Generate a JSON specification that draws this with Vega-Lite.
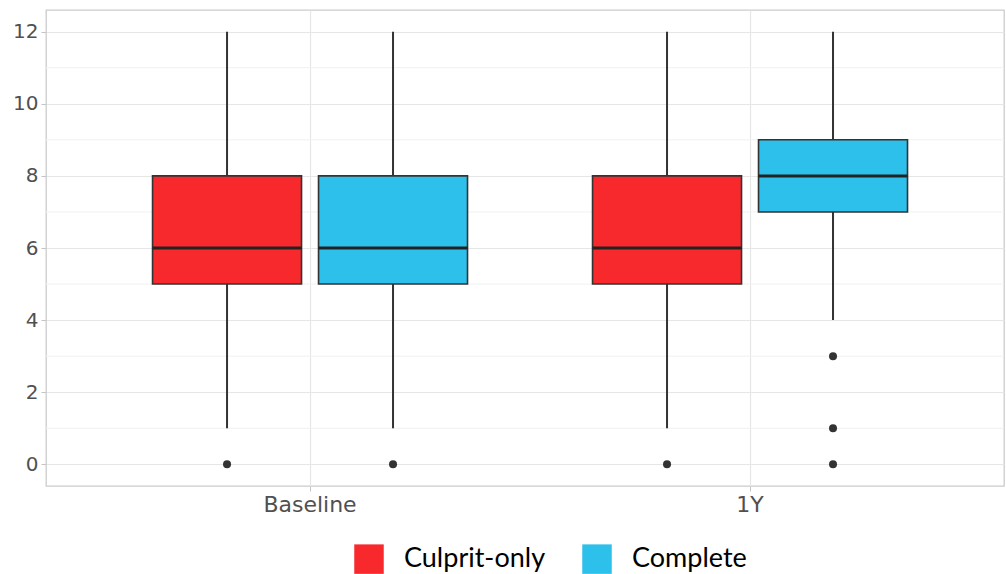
{
  "$schema": "https://vega.github.io/schema/vega-lite/v6.json",
  "width": 958,
  "height": 476,
  "padding": {"left": 12, "top": 10, "right": 0, "bottom": 0},
  "autosize": {"type": "pad"},
  "background": "white",
  "config": {
    "view": {"stroke": "#cccccc", "strokeWidth": 1.3},
    "font": "DejaVu Sans",
    "axis": {
      "domain": false,
      "title": null,
      "tickColor": "#c4c4c4",
      "tickSize": 5,
      "tickWidth": 1,
      "gridColor": "#e6e6e6",
      "gridWidth": 1.2,
      "labelColor": "#505050",
      "labelFont": "DejaVu Sans",
      "labelPadding": 3
    },
    "axisY": {"labelFontSize": 20},
    "axisX": {"labelFontSize": 22}
  },
  "datasets": {
    "boxes": [
      {"group": "Baseline", "series": "Culprit-only", "lower": 1, "q1": 5, "median": 6, "q3": 8, "upper": 12},
      {"group": "Baseline", "series": "Complete", "lower": 1, "q1": 5, "median": 6, "q3": 8, "upper": 12},
      {"group": "1Y", "series": "Culprit-only", "lower": 1, "q1": 5, "median": 6, "q3": 8, "upper": 12},
      {"group": "1Y", "series": "Complete", "lower": 4, "q1": 7, "median": 8, "q3": 9, "upper": 12}
    ],
    "outliers": [
      {"group": "Baseline", "series": "Culprit-only", "value": 0},
      {"group": "Baseline", "series": "Complete", "value": 0},
      {"group": "1Y", "series": "Culprit-only", "value": 0},
      {"group": "1Y", "series": "Complete", "value": 3},
      {"group": "1Y", "series": "Complete", "value": 1},
      {"group": "1Y", "series": "Complete", "value": 0}
    ],
    "minor": [{"y": 1}, {"y": 3}, {"y": 5}, {"y": 7}, {"y": 9}, {"y": 11}]
  },
  "layer": [
    {
      "data": {"name": "minor"},
      "mark": {"type": "rule", "color": "#f1f1f1", "strokeWidth": 1},
      "encoding": {
        "y": {"field": "y", "type": "quantitative", "scale": {"domain": [-0.6, 12.6], "nice": false, "zero": false},
              "axis": {"values": [0, 2, 4, 6, 8, 10, 12], "grid": true}}
      }
    },
    {
      "data": {"name": "boxes"},
      "mark": {"type": "rule", "color": "#333333", "strokeWidth": 2},
      "encoding": {
        "x": {"field": "group", "type": "nominal", "sort": ["Baseline", "1Y"],
              "scale": {"paddingInner": 0.2455, "paddingOuter": 0.2114, "align": 0.527},
              "axis": {"grid": true, "bandPosition": 0.5, "labelAngle": 0}},
        "xOffset": {"field": "series", "type": "nominal", "sort": ["Culprit-only", "Complete"],
                    "scale": {"domain": ["Culprit-only", "Complete"], "paddingInner": 0.1024, "paddingOuter": 0.0512}},
        "y": {"field": "lower", "type": "quantitative"},
        "y2": {"field": "upper"}
      }
    },
    {
      "data": {"name": "boxes"},
      "mark": {"type": "bar", "stroke": "#333333", "strokeWidth": 1.6, "opacity": 1},
      "encoding": {
        "x": {"field": "group", "type": "nominal", "sort": ["Baseline", "1Y"]},
        "xOffset": {"field": "series", "type": "nominal", "sort": ["Culprit-only", "Complete"]},
        "y": {"field": "q1", "type": "quantitative"},
        "y2": {"field": "q3"},
        "color": {
          "field": "series", "type": "nominal",
          "scale": {"domain": ["Culprit-only", "Complete"], "range": ["#F8292D", "#2CC0EA"]},
          "legend": {
            "orient": "none", "legendX": 308, "legendY": 534, "direction": "horizontal",
            "title": null, "symbolType": "square", "symbolSize": 870, "symbolStrokeWidth": 0,
            "labelFontSize": 27, "labelFont": "Lato", "labelColor": "black",
            "labelOffset": 20, "columnPadding": 36,
            "encode": {"symbols": {"update": {
              "fill": {"signal": "datum.value === 'Culprit-only' ? '#FF0000' : '#00B0F0'"},
              "stroke": {"value": "transparent"},
              "opacity": {"value": 1}
            }}}
          }
        }
      }
    },
    {
      "data": {"name": "boxes"},
      "mark": {"type": "bar", "fill": "transparent", "stroke": "#222222", "strokeWidth": 3},
      "encoding": {
        "x": {"field": "group", "type": "nominal", "sort": ["Baseline", "1Y"]},
        "xOffset": {"field": "series", "type": "nominal", "sort": ["Culprit-only", "Complete"]},
        "y": {"field": "median", "type": "quantitative"},
        "y2": {"field": "median"}
      }
    },
    {
      "data": {"name": "outliers"},
      "mark": {"type": "point", "filled": true, "color": "#333333", "size": 64, "opacity": 1},
      "encoding": {
        "x": {"field": "group", "type": "nominal", "sort": ["Baseline", "1Y"]},
        "xOffset": {"field": "series", "type": "nominal", "sort": ["Culprit-only", "Complete"]},
        "y": {"field": "value", "type": "quantitative"}
      }
    }
  ]
}
